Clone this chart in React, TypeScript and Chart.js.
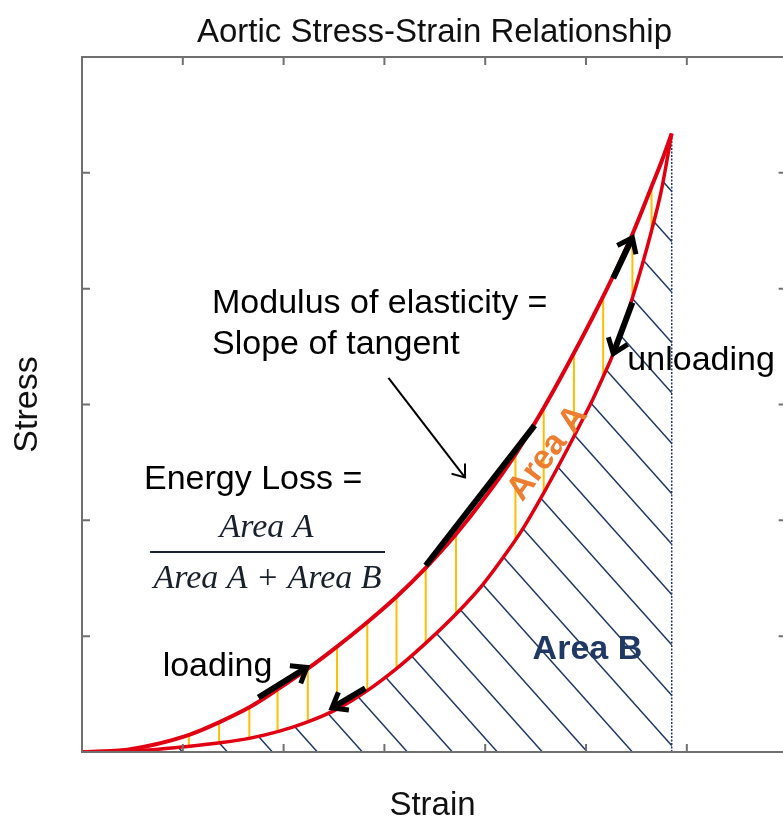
import React, { useEffect, useRef } from 'react';
import { Chart, registerables } from 'chart.js';

Chart.register(...registerables);

// ---- Data (strain in tick units, stress in tick units) ----
const loadStrain = [0, 0.45, 0.7, 1.07, 1.37, 1.67, 1.94, 2.24, 2.53, 2.83, 3.12, 3.41, 3.71, 4.0, 4.3, 4.58, 4.81, 5.07, 5.27, 5.46, 5.65, 5.75, 5.85];
const loadStress = [0, 0.02, 0.06, 0.15, 0.26, 0.39, 0.54, 0.72, 0.91, 1.12, 1.34, 1.59, 1.88, 2.2, 2.57, 2.97, 3.33, 3.76, 4.11, 4.47, 4.88, 5.1, 5.34];

const unloadStrain = [0, 0.7, 1.07, 1.37, 1.67, 1.96, 2.24, 2.53, 2.83, 3.12, 3.41, 3.72, 3.98, 4.22, 4.39, 4.57, 4.77, 4.96, 5.07, 5.17, 5.27, 5.46, 5.65, 5.75, 5.85];
const unloadStress = [0, 0.02, 0.05, 0.08, 0.12, 0.18, 0.26, 0.37, 0.53, 0.72, 0.94, 1.2, 1.45, 1.73, 1.95, 2.22, 2.54, 2.86, 3.05, 3.24, 3.44, 3.92, 4.5, 4.86, 5.34];

const tieStrain = [1.06, 1.36, 1.66, 1.94, 2.24, 2.53, 2.83, 3.12, 3.41, 3.71, 4.3, 4.58, 4.88, 5.17, 5.46, 5.65];
const tieTop = [0.15, 0.26, 0.39, 0.54, 0.72, 0.91, 1.12, 1.34, 1.59, 1.88, 2.57, 2.97, 3.45, 3.94, 4.47, 4.88];
const tieBottom = [0.05, 0.08, 0.12, 0.18, 0.26, 0.37, 0.53, 0.72, 0.94, 1.2, 1.83, 2.23, 2.72, 3.24, 3.92, 4.5];

const tangentStrain = [3.41, 4.49];
const tangentStress = [1.61, 2.82];

const peakStrain = 5.85;
const peakStress = 5.34;

const xTicks = [1, 2, 3, 4, 5, 6];
const yTicks = [1, 2, 3, 4, 5];

// arrows: [x1, y1, x2, y2] in data units, head at (x2, y2)
const thickArrows = [
  [1.75, 0.47, 2.23, 0.73],
  [2.81, 0.55, 2.48, 0.38],
  [5.27, 4.09, 5.46, 4.44],
  [5.46, 3.88, 5.27, 3.44],
];
const thinArrow = [3.04, 3.23, 3.8, 2.37];

const titleText = 'Aortic Stress-Strain Relationship';
const xTitle = 'Strain';
const yTitle = 'Stress';

const SANS = '"Liberation Sans", Arial, Helvetica, sans-serif';
const SERIF = '"Liberation Serif", "Times New Roman", serif';

function drawArrow(ctx: CanvasRenderingContext2D, x1: number, y1: number, x2: number, y2: number, lw: number, head: number, headLw: number) {
  const a = Math.atan2(y2 - y1, x2 - x1);
  ctx.beginPath();
  ctx.moveTo(x1, y1);
  ctx.lineTo(x2 - Math.cos(a) * lw * 0.4, y2 - Math.sin(a) * lw * 0.4);
  ctx.lineWidth = lw;
  ctx.lineCap = 'butt';
  ctx.stroke();
  const spread = 0.65;
  ctx.beginPath();
  ctx.moveTo(x2 - head * Math.cos(a - spread), y2 - head * Math.sin(a - spread));
  ctx.lineTo(x2, y2);
  ctx.lineTo(x2 - head * Math.cos(a + spread), y2 - head * Math.sin(a + spread));
  ctx.lineWidth = headLw;
  ctx.lineJoin = 'miter';
  ctx.stroke();
}

const overlay = {
  id: 'overlay',
  beforeDatasetsDraw(chart: any) {
    const { ctx, scales } = chart;
    const x = scales.x;
    const y = scales.y;
    const meta = chart.getDatasetMeta(2);
    const pts = meta.data;
    const yb = y.getPixelForValue(0);
    ctx.save();
    ctx.beginPath();
    ctx.moveTo(pts[0].x, pts[0].y);
    for (let i = 1; i < pts.length; i++) ctx.lineTo(pts[i].x, pts[i].y);
    ctx.lineTo(x.getPixelForValue(peakStrain), yb);
    ctx.lineTo(pts[0].x, yb);
    ctx.closePath();
    ctx.clip();
    ctx.strokeStyle = '#1f3864';
    ctx.lineWidth = 1.5;
    const s = 1.12;
    const anchor = x.getPixelForValue(5.46);
    for (let k = -25; k <= 25; k++) {
      const x0 = anchor + k * 45;
      ctx.beginPath();
      ctx.moveTo(x0 - 800, yb - 800 * s);
      ctx.lineTo(x0 + 100, yb + 100 * s);
      ctx.stroke();
    }
    ctx.restore();
  },
  afterDatasetsDraw(chart: any) {
    const { ctx, scales } = chart;
    const x = scales.x;
    const y = scales.y;
    ctx.save();
    ctx.strokeStyle = '#000';
    for (const a of thickArrows) {
      drawArrow(ctx, x.getPixelForValue(a[0]), y.getPixelForValue(a[1]), x.getPixelForValue(a[2]), y.getPixelForValue(a[3]), 6, 17, 5);
    }
    drawArrow(ctx, x.getPixelForValue(thinArrow[0]), y.getPixelForValue(thinArrow[1]), x.getPixelForValue(thinArrow[2]), y.getPixelForValue(thinArrow[3]), 2, 14, 2);
    ctx.restore();
  },
  afterDraw(chart: any) {
    const { ctx, chartArea, scales, width } = chart;
    const x = scales.x;
    const y = scales.y;
    const L = chartArea.left, T = chartArea.top, B = chartArea.bottom;
    ctx.save();
    // frame
    ctx.strokeStyle = '#707070';
    ctx.lineWidth = 2;
    ctx.lineCap = 'butt';
    ctx.beginPath();
    ctx.moveTo(width, T); ctx.lineTo(L, T); ctx.lineTo(L, B); ctx.lineTo(width, B);
    ctx.stroke();
    // ticks
    ctx.beginPath();
    for (const v of xTicks) {
      const px = x.getPixelForValue(v);
      ctx.moveTo(px, T); ctx.lineTo(px, T + 8);
      ctx.moveTo(px, B); ctx.lineTo(px, B - 8);
    }
    const rightEdge = x.getPixelForValue(7);
    for (const v of yTicks) {
      const py = y.getPixelForValue(v);
      ctx.moveTo(L, py); ctx.lineTo(L + 8, py);
      ctx.moveTo(rightEdge - 9, py); ctx.lineTo(rightEdge, py);
    }
    ctx.stroke();

    // titles
    ctx.fillStyle = '#111';
    ctx.textBaseline = 'alphabetic';
    ctx.textAlign = 'center';
    ctx.font = `33px ${SANS}`;
    ctx.fillText(titleText, (L + chartArea.right) / 2 + 2, 42);
    ctx.fillText(xTitle, (L + chartArea.right) / 2, 815);
    ctx.save();
    ctx.translate(37, (T + B) / 2);
    ctx.rotate(-Math.PI / 2);
    ctx.font = `34px ${SANS}`;
    ctx.fillText(yTitle, 0, 0);
    ctx.restore();

    const X = (v: number) => x.getPixelForValue(v);
    const Y = (v: number) => y.getPixelForValue(v);

    // annotations
    ctx.fillStyle = '#000';
    ctx.textAlign = 'left';
    ctx.font = `34px ${SANS}`;
    ctx.fillText('Modulus of elasticity =', X(1.29), Y(3.79));
    ctx.fillText('Slope of tangent', X(1.29), Y(3.44));
    ctx.fillText('Energy Loss =', X(0.615), Y(2.27));
    ctx.fillText('loading', X(0.8), Y(0.66));
    ctx.fillText('unloading', X(5.41), Y(3.3));

    // fraction
    ctx.fillStyle = '#18202c';
    ctx.textAlign = 'center';
    ctx.font = `italic 34px ${SERIF}`;
    ctx.fillText('Area A', X(1.83), Y(1.86));
    ctx.fillText('Area A + Area B', X(1.84), Y(1.42));
    ctx.strokeStyle = '#18202c';
    ctx.lineWidth = 2;
    ctx.beginPath();
    ctx.moveTo(X(0.675), Y(1.727));
    ctx.lineTo(X(3.006), Y(1.727));
    ctx.stroke();

    // Area B
    ctx.fillStyle = '#1f3864';
    ctx.textAlign = 'left';
    ctx.font = `bold 34px ${SANS}`;
    ctx.fillText('Area B', X(4.47), Y(0.8));

    // Area A rotated
    ctx.save();
    ctx.translate(X(4.62), Y(2.58));
    ctx.rotate(-53 * Math.PI / 180);
    ctx.fillStyle = '#ed7d31';
    ctx.textAlign = 'center';
    ctx.textBaseline = 'middle';
    ctx.font = `bold 34px ${SANS}`;
    ctx.fillText('Area A', 0, 0);
    ctx.restore();

    ctx.restore();
  },
};

export default function App() {
  const ref = useRef<HTMLCanvasElement | null>(null);
  useEffect(() => {
    if (!ref.current) return;
    const tieData: any[] = [];
    tieStrain.forEach((s, i) => {
      tieData.push({ x: s, y: tieTop[i] });
      tieData.push({ x: s, y: tieBottom[i] });
      tieData.push({ x: s, y: null });
    });
    const chart = new Chart(ref.current, {
      type: 'line',
      data: {
        datasets: [
          {
            label: 'Tangent',
            data: tangentStrain.map((s, i) => ({ x: s, y: tangentStress[i] })),
            borderColor: '#000',
            borderWidth: 6,
            pointRadius: 0,
            tension: 0,
          },
          {
            label: 'Loading',
            data: loadStrain.map((s, i) => ({ x: s, y: loadStress[i] })),
            borderColor: '#e00012',
            borderWidth: 4,
            pointRadius: 0,
            cubicInterpolationMode: 'monotone',
          },
          {
            label: 'Unloading',
            data: unloadStrain.map((s, i) => ({ x: s, y: unloadStress[i] })),
            borderColor: '#e00012',
            borderWidth: 3.5,
            pointRadius: 0,
            cubicInterpolationMode: 'monotone',
          },
          {
            label: 'Peak',
            data: [{ x: peakStrain, y: 0 }, { x: peakStrain, y: peakStress }],
            borderColor: '#1f3864',
            borderWidth: 1.5,
            borderDash: [2, 1.5],
            pointRadius: 0,
          },
          {
            label: 'Ties',
            data: tieData,
            borderColor: '#ffbf00',
            borderWidth: 2,
            pointRadius: 0,
            spanGaps: false,
          },
        ],
      } as any,
      options: {
        animation: false,
        responsive: false,
        maintainAspectRatio: false,
        events: [],
        layout: { padding: { left: 82, top: 57, right: 0, bottom: 69 } },
        plugins: { legend: { display: false }, tooltip: { enabled: false }, title: { display: false } },
        scales: {
          x: { type: 'linear', min: 0, max: 6.954, display: false },
          y: { type: 'linear', min: 0, max: 6, display: false },
        },
      } as any,
      plugins: [overlay],
    });
    return () => chart.destroy();
  }, []);
  return (
    <div style={{ position: 'absolute', left: 0, top: 0, width: 783, height: 821, background: '#fff' }}>
      <canvas ref={ref} width={783} height={821} style={{ display: 'block' }} />
    </div>
  );
}
